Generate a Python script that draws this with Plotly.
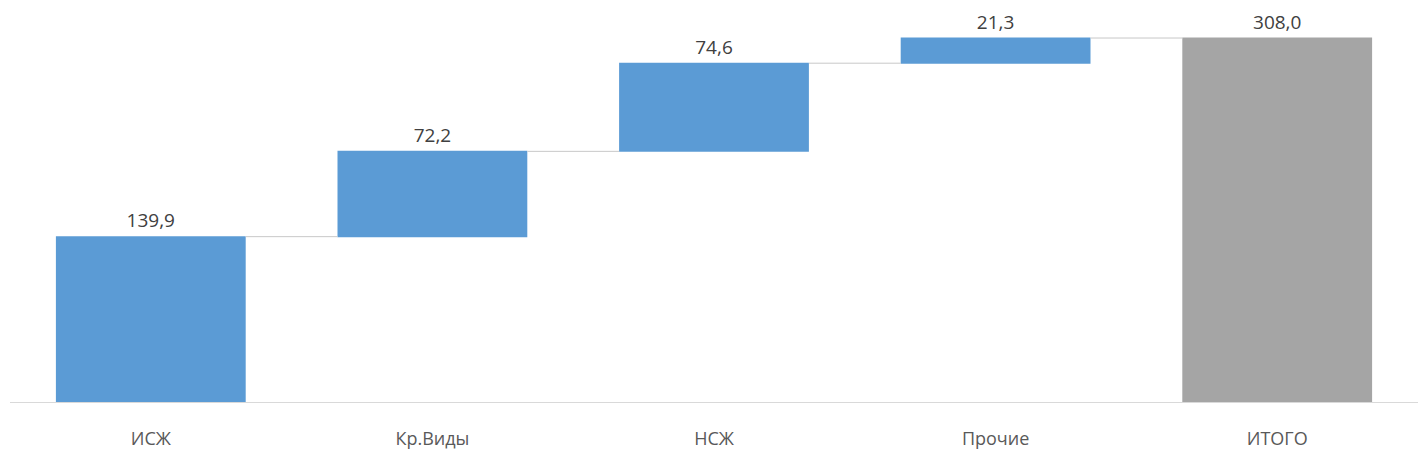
import plotly.graph_objects as go

categories = ["ИСЖ", "Кр.Виды", "НСЖ", "Прочие", "ИТОГО"]
values = [139.9, 72.2, 74.6, 21.3, 308.0]
measures = ["relative", "relative", "relative", "relative", "total"]
labels = [f"{v:.1f}".replace(".", ",") for v in values]

fig = go.Figure(go.Waterfall(
    x=categories,
    y=values,
    measure=measures,
    text=labels,
    textposition="outside",
    textfont=dict(family="Open Sans, Liberation Sans, sans-serif", size=19, color="#404040"),
    cliponaxis=False,
    increasing=dict(marker=dict(color="#5B9BD5")),
    decreasing=dict(marker=dict(color="#5B9BD5")),
    totals=dict(marker=dict(color="#A5A5A5")),
    connector=dict(line=dict(color="#C8C8C8", width=1)),
))

fig.update_layout(
    width=1410, height=460,
    margin=dict(l=2, r=0, t=0, b=66),
    paper_bgcolor="white", plot_bgcolor="white",
    showlegend=False,
    waterfallgap=0.326,
    xaxis=dict(
        showline=True, linecolor="#D9D9D9", linewidth=1,
        showgrid=False, ticks="", ticklabelstandoff=20,
        tickfont=dict(family="Open Sans, Liberation Sans, sans-serif", size=18, color="#595959"),
    ),
    yaxis=dict(range=[0, 333.4], visible=False, showgrid=False, zeroline=False),
)

fig.write_html("out.html")
